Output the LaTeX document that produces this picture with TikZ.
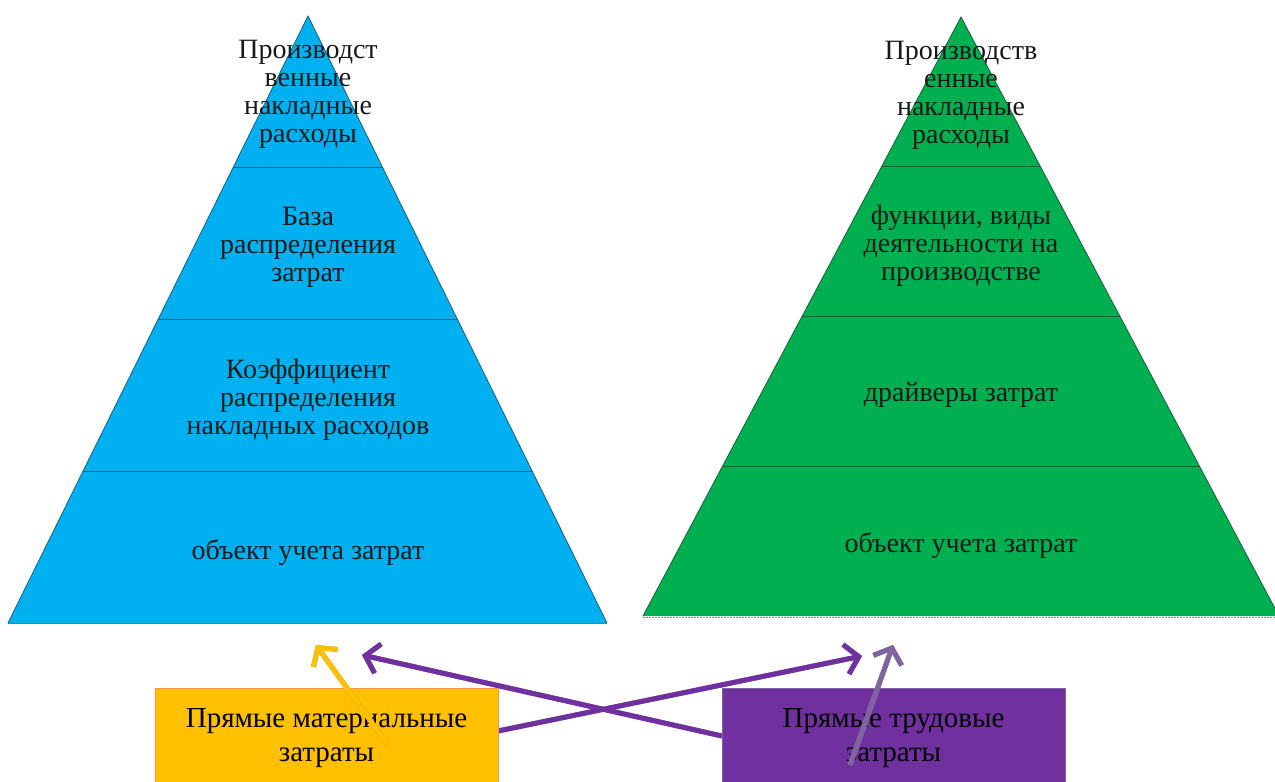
\documentclass[tikz,border=0pt]{standalone}
\usepackage{fontspec}
\setmainfont{Liberation Serif}
\usetikzlibrary{arrows.meta,calc}
\definecolor{pyrblue}{HTML}{00B0F0}
\definecolor{pyrgreen}{HTML}{00B050}
\definecolor{blueline}{HTML}{1B5E7E}
\definecolor{greenline}{HTML}{17603A}
\definecolor{boxyellow}{HTML}{FFC000}
\definecolor{boxyellowrim}{HTML}{F79646}
\definecolor{boxpurple}{HTML}{7030A0}
\definecolor{boxpurplerim}{HTML}{8064A2}
\definecolor{arrowlav}{HTML}{8064A2}
\definecolor{shadowgray}{HTML}{8A8A8A}
\begin{document}
\begin{tikzpicture}[x=1pt,y=-1pt,
  tier/.style={align=center,text=black!90,font=\fontsize{28}{28}\selectfont},
  costbox/.style={minimum width=343pt,minimum height=100pt,line width=1pt,
    align=center,text=black,font=\fontsize{29}{34}\selectfont},
  flow/.style={line width=5pt,-{Straight Barb[length=13pt,width=30pt]}},
  flowshadow/.style={flow,draw=shadowgray,shift={(2,2)}}]
\useasboundingbox (0,0) rectangle (1275,782);

% ---- left pyramid: conventional allocation ----
\coordinate (BA) at (308,16);
\coordinate (BL) at (8,623);
\coordinate (BR) at (607,623);
\fill[pyrblue] (BL) -- (BA) -- (BR) -- cycle;
\draw[blueline,line width=0.8pt] (BL) -- (BA) -- (BR);
\draw[black!55,line width=0.8pt] (BL) -- (BR);
\foreach \t in {0.25,0.5,0.75}
  \draw[blueline,line width=1.2pt] ($(BA)!\t!(BL)$) -- ($(BA)!\t!(BR)$);

\node[tier] (b1) at (308,94) {Производст\\венные\\накладные\\расходы};
\node[tier] (b2) at (308,247) {База\\распределения\\затрат};
\node[tier] (b3) at (308,400) {Коэффициент\\распределения\\накладных расходов};
\node[tier] (b4) at (308,552) {объект учета затрат};

% ---- right pyramid: activity-based allocation ----
\coordinate (GA) at (961,17);
\coordinate (GL) at (643,616);
\coordinate (GR) at (1279,616);
\fill[pyrgreen] (GL) -- (GA) -- (GR) -- cycle;
\draw[greenline,line width=0.8pt] (GL) -- (GA) -- (GR);
\draw[black!45,line width=1pt,dash pattern=on 2pt off 1pt] ($(GL)+(0,1.5)$) -- ($(GR)+(0,1.5)$);
\foreach \t in {0.25,0.5,0.75}
  \draw[greenline,line width=1.2pt] ($(GA)!\t!(GL)$) -- ($(GA)!\t!(GR)$);

\node[tier] (g1) at (961,95) {Производств\\енные\\накладные\\расходы};
\node[tier] (g2) at (961,246) {функции, виды\\деятельности на\\производстве};
\node[tier] (g3) at (961,395) {драйверы затрат};
\node[tier] (g4) at (961,545) {объект учета затрат};

% ---- arrow end points ----
\coordinate (tipYel) at (316,645);
\coordinate (tailYel) at (388,745);
\coordinate (tipToGreen) at (862,656);
\coordinate (tailFromYel) at (498,731);
\coordinate (tipToBlue) at (362,655);
\coordinate (tailFromPur) at (722,736);
\coordinate (tipLav) at (893,645);
\coordinate (tailLav) at (850,765);

% crossing purple arrows, below the boxes
\draw[flowshadow] (tailFromYel) -- (tipToGreen);
\draw[flowshadow] (tailFromPur) -- (tipToBlue);
\draw[flow,draw=boxpurple] (tailFromYel) -- (tipToGreen);
\draw[flow,draw=boxpurple] (tailFromPur) -- (tipToBlue);

% ---- cost boxes ----
\node[costbox,fill=boxyellow,draw=boxyellowrim] (ybox) at (326.5,738)
  {Прямые материальные\\затраты};
\node[costbox,fill=boxpurple,draw=boxpurplerim] (pbox) at (893.5,738)
  {Прямые трудовые\\затраты};

% arrows rising out of the boxes
\draw[flowshadow] (tailYel) -- (tipYel);
\draw[flow,draw=boxyellow] (tailYel) -- (tipYel);
\draw[flowshadow] (tailLav) -- (tipLav);
\draw[flow,draw=arrowlav] (tailLav) -- (tipLav);
\end{tikzpicture}
\end{document}
